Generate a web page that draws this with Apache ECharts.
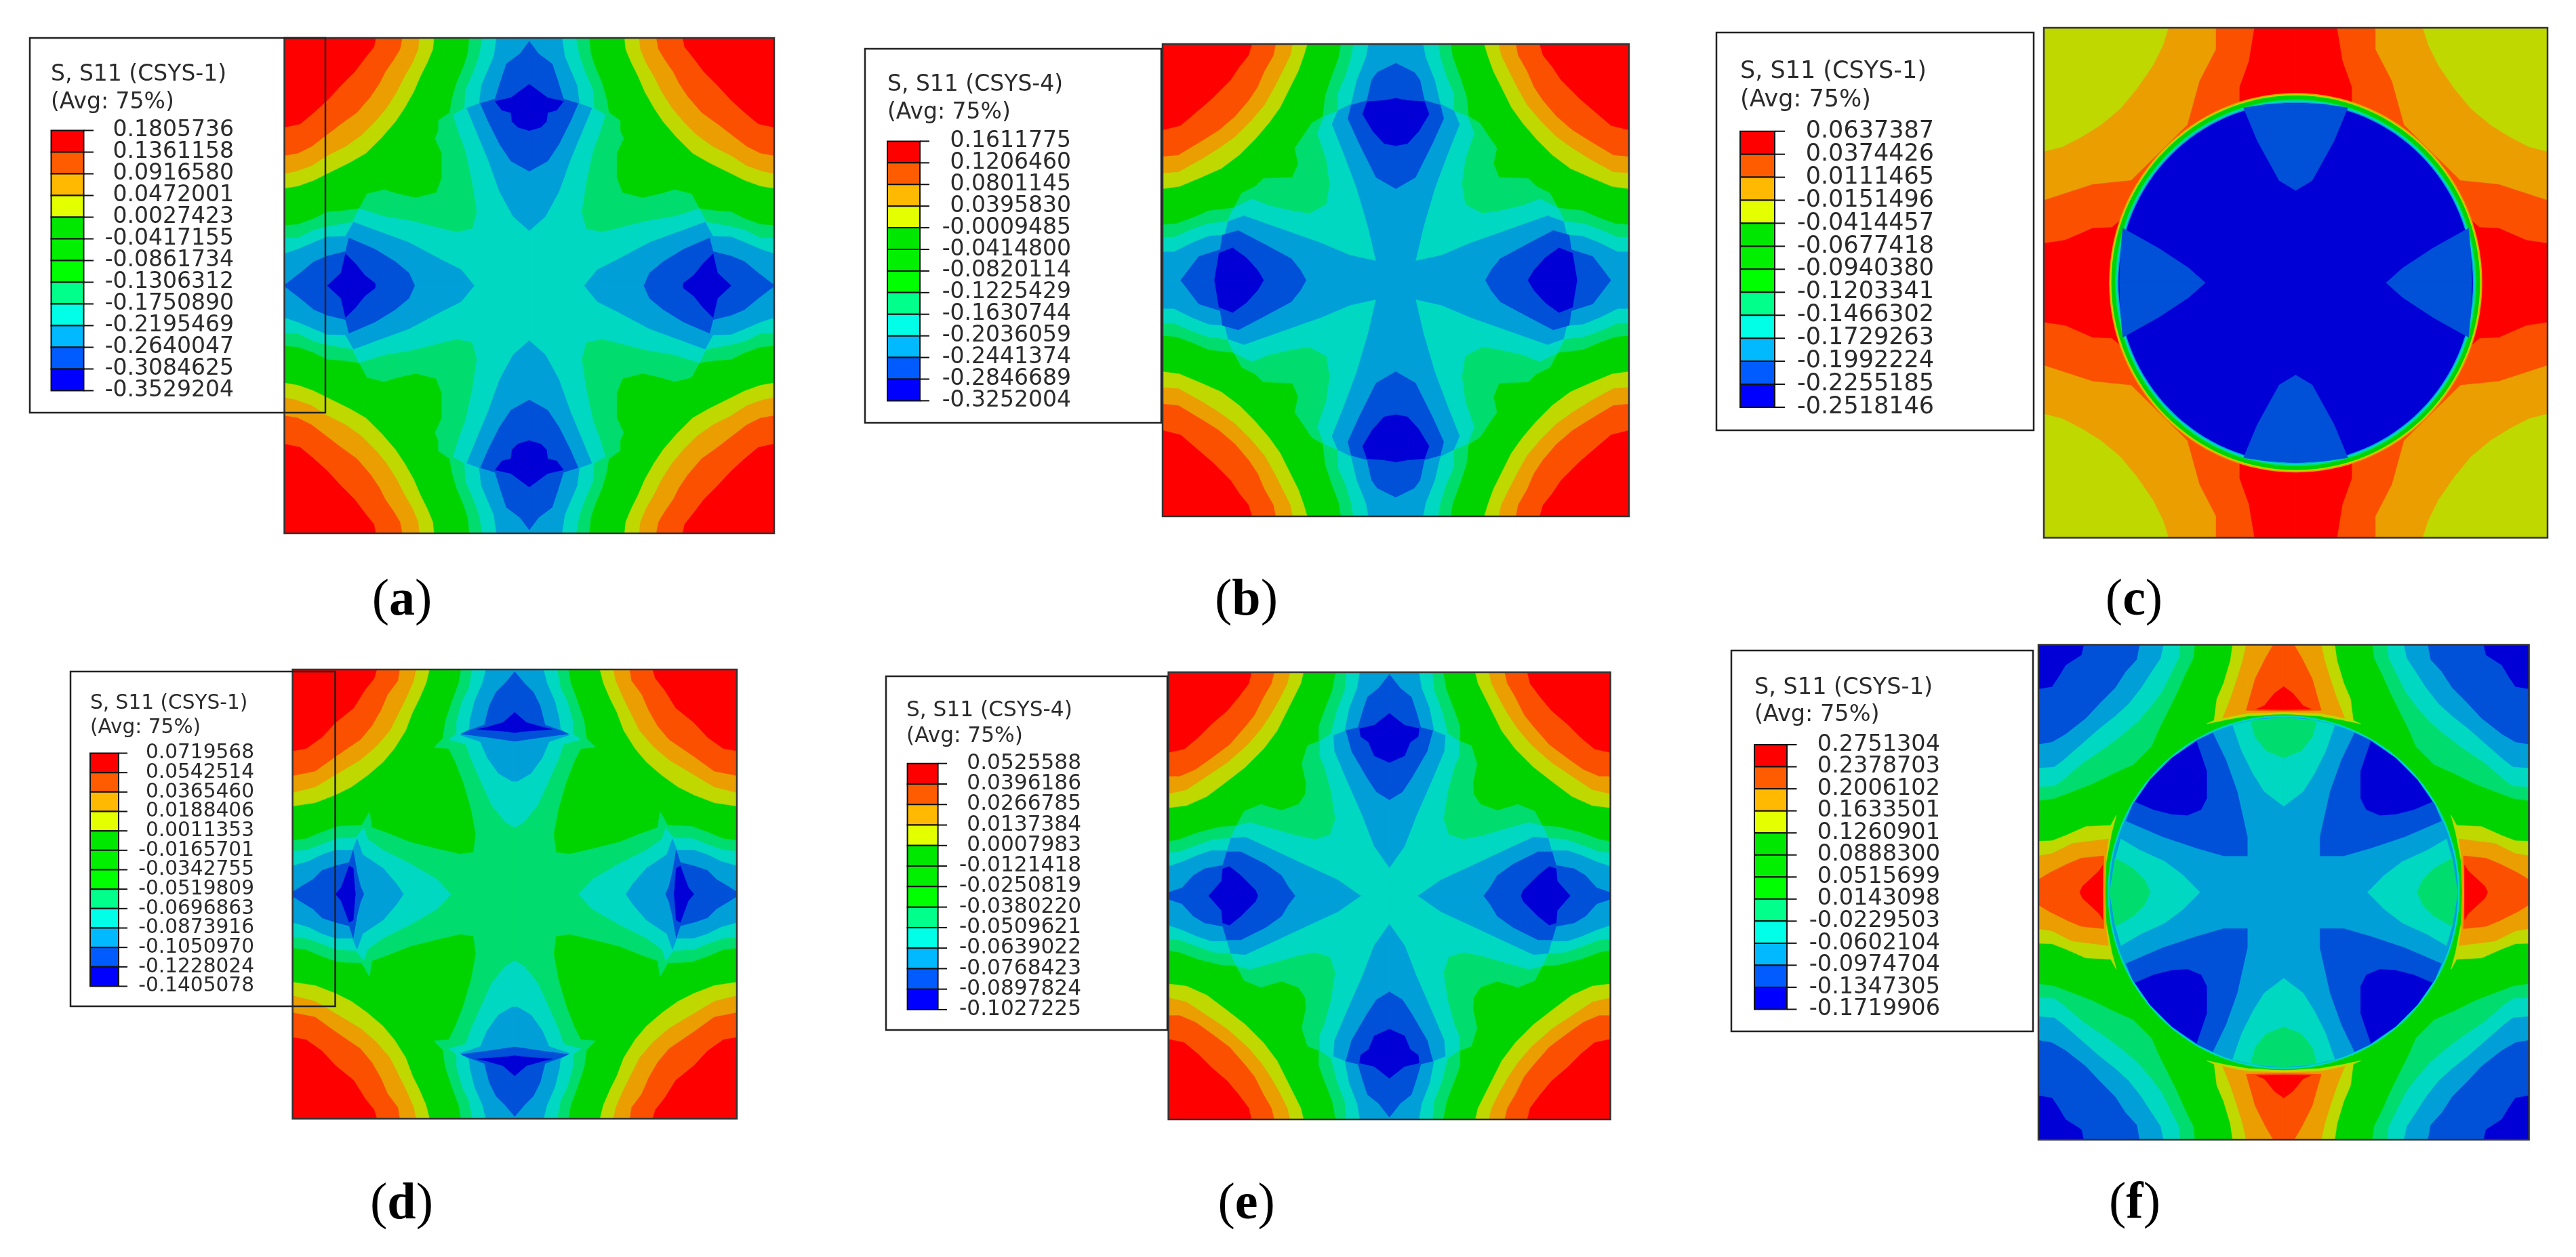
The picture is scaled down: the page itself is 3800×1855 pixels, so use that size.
<!DOCTYPE html>
<html><head><meta charset="utf-8">
<style>html,body{margin:0;padding:0;background:#fff}#c{width:3800px;height:1855px}</style>
<script src="https://cdn.jsdelivr.net/npm/echarts@6/dist/echarts.min.js"></script>
</head><body><div id="c"></div>
<script>
// contour level colours, rendered field and legend bar
const fieldColors=['#fe0000','#fa5000','#ea9e00','#bfd800','#00d400','#00d400','#00d400','#00dd6e','#00d8c2','#009fd8','#0050d8','#0000d6'];
const barColors=['#ff0000','#ff5c00','#ffb900','#e3ff00','#00e800','#00f000','#00ff00','#00ff8b','#00ffe6','#00b9ff','#005cff','#0000ff'];
const R=0,O=1,A=2,Y=3,G=4,S=7,T=8,B=9,D=10,N=11;

// legend tick labels
const ticksA=['0.1805736','0.1361158','0.0916580','0.0472001','0.0027423','-0.0417155','-0.0861734','-0.1306312','-0.1750890','-0.2195469','-0.2640047','-0.3084625','-0.3529204'];
const ticksB=['0.1611775','0.1206460','0.0801145','0.0395830','-0.0009485','-0.0414800','-0.0820114','-0.1225429','-0.1630744','-0.2036059','-0.2441374','-0.2846689','-0.3252004'];
const ticksC=['0.0637387','0.0374426','0.0111465','-0.0151496','-0.0414457','-0.0677418','-0.0940380','-0.1203341','-0.1466302','-0.1729263','-0.1992224','-0.2255185','-0.2518146'];
const ticksD=['0.0719568','0.0542514','0.0365460','0.0188406','0.0011353','-0.0165701','-0.0342755','-0.0519809','-0.0696863','-0.0873916','-0.1050970','-0.1228024','-0.1405078'];
const ticksE=['0.0525588','0.0396186','0.0266785','0.0137384','0.0007983','-0.0121418','-0.0250819','-0.0380220','-0.0509621','-0.0639022','-0.0768423','-0.0897824','-0.1027225'];
const ticksF=['0.2751304','0.2378703','0.2006102','0.1633501','0.1260901','0.0888300','0.0515699','0.0143098','-0.0229503','-0.0602104','-0.0974704','-0.1347305','-0.1719906'];

// contour bands: one quarter of each field (mirrored about the centre),
// [level, outline] in each panel's own measuring units
const fieldA=[
[Y,[[0,0],[660,0],[655,50],[630,110],[600,170],[570,240],[530,310],[490,370],[430,440],[360,510],[290,550],[190,600],[130,630],[60,655],[0,665]]],
[A,[[0,0],[595,0],[590,50],[565,110],[530,170],[495,240],[450,310],[400,370],[340,430],[270,480],[190,520],[120,565],[50,590],[0,600]]],
[O,[[0,0],[520,0],[510,50],[480,100],[445,150],[420,200],[380,260],[320,330],[250,380],[185,430],[120,480],[60,510],[0,520]]],
[R,[[0,0],[403,0],[395,40],[355,90],[310,150],[250,210],[190,275],[130,330],[70,380],[0,395]]],
[S,[[817,0],[810,70],[790,130],[760,200],[740,270],[730,330],[680,365],[680,410],[665,445],[695,510],[695,620],[670,685],[580,708],[500,690],[440,672],[365,690],[330,755],[260,765],[190,770],[130,800],[60,825],[0,830],[0,1096],[1081,1096],[1081,0]]],
[T,[[875,0],[860,80],[835,150],[800,230],[795,310],[745,340],[770,420],[800,500],[830,640],[850,770],[830,845],[760,860],[680,840],[560,810],[440,790],[330,755],[300,815],[190,835],[130,850],[60,885],[0,885],[0,1096],[1081,1096],[1081,0]]],
[B,[[937,0],[925,80],[900,140],[870,210],[860,290],[805,310],[850,420],[900,540],[950,680],[1010,790],[1081,853],[1081,0]]],
[B,[[0,955],[60,935],[130,905],[190,880],[270,878],[305,815],[400,850],[550,905],[700,985],[780,1025],[838,1096],[0,1096]]],
[D,[[1081,15],[1040,70],[980,115],[955,190],[930,270],[865,290],[900,370],[950,470],[1000,545],[1081,590]]],
[D,[[5,1090],[70,1040],[130,990],[190,965],[270,945],[285,885],[400,935],[490,990],[550,1040],[575,1096],[5,1096]]],
[N,[[1081,205],[1040,235],[1000,265],[930,280],[960,320],[1000,330],[1005,370],[1030,395],[1081,410]]],
[N,[[190,1096],[250,1040],[270,955],[315,1000],[355,1050],[400,1085],[402,1096]]]
];
const fieldB=[
[Y,[[0,0],[640,0],[625,50],[600,120],[565,190],[520,280],[470,350],[410,420],[340,490],[260,550],[170,590],[75,630],[0,640]]],
[A,[[0,0],[575,0],[565,50],[530,120],[495,190],[450,270],[390,340],[320,410],[250,460],[170,510],[70,565],[0,570]]],
[O,[[0,0],[500,0],[490,50],[450,120],[420,190],[380,250],[320,320],[250,380],[170,430],[70,490],[0,497]]],
[R,[[0,0],[395,0],[380,50],[340,100],[300,160],[220,240],[150,300],[80,360],[0,380]]],
[S,[[790,0],[780,60],[750,140],[720,230],[710,320],[660,350],[620,410],[585,460],[600,530],[575,590],[445,595],[410,630],[350,660],[315,725],[205,738],[130,770],[60,795],[0,800],[0,1045],[1032,1045],[1032,0]]],
[T,[[845,0],[835,60],[810,140],[775,220],[775,295],[715,320],[685,395],[725,510],[740,620],[725,710],[650,750],[580,740],[470,715],[395,685],[315,725],[285,785],[200,795],[130,820],[50,855],[0,855],[0,1045],[1032,1045],[1032,0]]],
[B,[[912,0],[900,60],[860,160],[835,265],[775,295],[750,355],[800,480],[860,640],[910,810],[945,960],[830,935],[700,880],[530,820],[360,760],[290,785],[275,845],[205,850],[130,880],[50,920],[0,920],[0,1045],[1032,1045],[1032,0]]],
[D,[[1032,85],[950,125],[925,160],[905,250],[835,270],[820,330],[870,440],[945,590],[1032,640]]],
[D,[[80,1045],[160,940],[255,910],[265,845],[335,825],[440,880],[570,950],[610,1000],[635,1045]]],
[N,[[1032,240],[980,250],[905,255],[885,310],[930,385],[980,440],[1032,450]]],
[N,[[230,1045],[250,925],[310,902],[370,945],[420,1000],[447,1045]]]
];
const fieldC=[
[Y,[[611,36],[838,36],[828,80],[810,130],[780,190],[750,240],[715,280],[680,310],[645,335],[611,347]]],
[O,[[925,36],[925,90],[895,170],[873,280],[770,420],[700,430],[611,470],[611,677],[1070,677],[1070,36]]],
[R,[[995,36],[985,120],[968,185],[968,260],[735,538],[700,540],[650,570],[611,578],[611,677],[1070,677],[1070,36]]]
];
const ringsC=[[A,340,477],[Y,338,474],[G,336,471],[S,329,461],[T,327,458],[B,325,455],[N,323,452]];
const innerC=[
[D,[[975,237],[1020,228],[1070,226],[1070,445],[1040,420],[1000,320]]],
[D,[[755,540],[820,590],[875,640],[905,677],[749,677],[751,600]]]
];
const fieldD=[
[Y,[[0,0],[605,0],[590,60],[560,130],[530,190],[500,270],[450,350],[400,410],[330,470],[260,520],[190,555],[100,590],[0,605]]],
[A,[[0,0],[545,0],[535,50],[500,130],[470,190],[430,270],[370,340],[300,400],[200,460],[100,520],[0,545]]],
[O,[[0,0],[473,0],[465,50],[420,110],[390,180],[350,250],[300,310],[190,385],[100,450],[0,470]]],
[R,[[0,0],[372,0],[360,40],[320,90],[270,170],[190,235],[130,300],[60,350],[0,360]]],
[S,[[745,0],[735,60],[705,140],[675,230],[665,305],[625,345],[690,350],[720,410],[755,500],[790,620],[810,730],[800,810],[740,818],[640,795],[520,765],[420,725],[350,700],[340,630],[305,690],[200,695],[130,720],[60,750],[0,757],[0,995],[982,995],[982,0]]],
[T,[[795,0],[780,80],[750,140],[725,230],[725,285],[690,310],[765,330],[790,400],[830,490],[880,600],[940,675],[982,700],[982,0]]],
[T,[[0,805],[60,800],[130,775],[190,750],[280,745],[315,700],[330,750],[400,800],[520,860],[640,930],[700,995],[0,995]]],
[B,[[855,0],[840,60],[805,140],[785,220],[780,265],[740,290],[830,320],[860,390],[910,460],[970,495],[982,495],[982,0]]],
[B,[[0,870],[70,850],[130,820],[190,800],[265,800],[285,750],[310,820],[400,880],[460,950],[490,995],[0,995]]],
[D,[[982,10],[940,60],[900,100],[870,160],[848,245],[785,268],[745,285],[860,300],[982,318]]],
[D,[[0,985],[40,960],[90,930],[130,890],[190,870],[250,855],[268,800],[285,900],[300,960],[315,995],[0,995]]],
[N,[[982,190],[930,235],[860,255],[815,265],[950,275],[982,280]]],
[N,[[190,995],[215,965],[250,870],[268,880],[275,970],[278,995]]]
];
const fieldE=[
[Y,[[0,0],[597,0],[585,50],[555,110],[520,180],[480,260],[420,340],[340,420],[250,490],[170,550],[80,590],[0,600]]],
[A,[[0,0],[537,0],[525,50],[490,120],[450,190],[410,250],[350,320],[260,400],[170,460],[80,520],[0,538]]],
[O,[[0,0],[467,0],[455,50],[420,110],[380,190],[340,240],[270,320],[190,380],[120,430],[50,460],[0,460]]],
[R,[[0,0],[367,0],[355,50],[310,110],[260,170],[190,230],[130,290],[70,340],[0,355]]],
[S,[[740,0],[725,80],[690,170],[665,240],[665,305],[615,325],[590,405],[608,490],[605,540],[575,585],[500,612],[440,595],[410,585],[335,615],[300,680],[230,685],[130,710],[50,740],[0,750],[0,990],[977,990],[977,0]]],
[T,[[787,0],[780,80],[745,170],[720,270],[670,305],[668,370],[690,420],[720,530],[738,650],[715,720],[650,740],[570,725],[450,690],[360,665],[300,680],[275,735],[200,740],[130,765],[50,795],[0,800],[0,990],[977,990],[977,0]]],
[B,[[847,0],[835,70],[800,160],[780,260],[730,280],[735,350],[790,480],[860,640],[910,770],[977,865],[977,0]]],
[B,[[0,860],[60,840],[130,810],[190,790],[260,790],[275,735],[340,730],[470,790],[620,860],[750,920],[850,990],[0,990]]],
[D,[[977,10],[930,70],[880,110],[860,170],[838,245],[785,258],[810,350],[880,470],[920,530],[977,565]]],
[D,[[0,975],[60,955],[110,900],[160,870],[240,855],[258,795],[320,795],[430,850],[500,900],[530,950],[560,990],[0,990]]],
[N,[[977,182],[910,235],[845,250],[850,285],[885,310],[910,370],[977,400]]],
[N,[[178,990],[235,925],[240,870],[270,860],[320,900],[385,965],[395,990]]]
];
const fieldF=[
[S,[[0,0],[692,0],[685,60],[650,130],[610,220],[570,300],[530,380],[500,450],[420,530],[330,570],[240,615],[150,650],[70,680],[0,690]]],
[T,[[0,0],[628,0],[620,60],[585,130],[545,210],[500,270],[440,340],[370,400],[290,460],[200,520],[100,605],[70,625],[0,628]]],
[B,[[0,0],[553,0],[540,60],[500,120],[455,190],[400,260],[340,315],[270,370],[190,440],[110,510],[70,540],[0,545]]],
[D,[[0,0],[447,0],[435,65],[385,120],[340,190],[270,260],[210,325],[120,395],[60,430],[0,440]]],
[N,[[0,0],[200,0],[190,45],[120,90],[90,140],[60,185],[0,195]]],
[Y,[[860,0],[850,70],[820,170],[790,240],[778,335],[745,350],[830,332],[930,315],[1086,310],[1086,0]]],
[A,[[920,0],[905,70],[880,150],[850,240],[820,315],[815,325],[885,310],[930,303],[1086,298],[1086,0]]],
[O,[[1040,0],[1005,60],[960,150],[920,290],[1086,293],[1086,0]]],
[R,[[1086,185],[1045,215],[1000,270],[965,285],[1086,287]]],
[Y,[[0,870],[60,868],[120,845],[210,805],[320,800],[345,755],[325,830],[300,960],[295,1096],[0,1096]]],
[A,[[0,935],[60,925],[150,880],[230,870],[310,860],[300,930],[295,1096],[0,1096]]],
[O,[[0,1040],[50,1010],[130,970],[190,945],[290,935],[285,1096],[0,1096]]],
[R,[[183,1096],[195,1070],[270,1000],[285,975],[285,1096]]]
];
const ringsF=[[G,785,788],[T,779,783],[B,772,776]];
const innerF=[
[D,[[772,390],[830,510],[880,650],[925,850],[925,935],[820,935],[700,900],[550,850],[388,780],[417,708],[495,597],[590,502],[700,424]]],
[N,[[700,428],[745,560],[745,680],[720,730],[660,755],[590,750],[510,730],[428,695],[495,597],[590,502]]],
[T,[[860,356],[900,470],[950,570],[1000,650],[1086,715],[1086,322],[950,334]]],
[S,[[940,338],[960,410],[1010,470],[1086,500],[1086,322]]],
[T,[[365,860],[450,910],[560,960],[640,1020],[715,1096],[316,1096],[340,950]]],
[S,[[340,945],[420,990],[470,1040],[495,1096],[316,1096]]]
];

// page layout of each panel
const panels=[
{tag:'a',csys:'S, S11 (CSYS-1)',ticks:ticksA,base:G,field:fieldA,rings:[],inner:[],dom:[0,0,1081,1096],
 rect:[419.5,56,722.5,731],box:[44,56,436,553],bar:[75.5,192.5,48,384],tickEnd:138,right:345,title:[75,110,151],font:33,lab:[593,887]},
{tag:'b',csys:'S, S11 (CSYS-4)',ticks:ticksB,base:G,field:fieldB,rings:[],inner:[],dom:[0,0,1032,1045],
 rect:[1715,65,688,697],box:[1276,72,437,552],bar:[1309,208.4,48,383],tickEnd:1371,right:1580,title:[1309,125.7,166],font:33,lab:[1838.5,887]},
{tag:'c',csys:'S, S11 (CSYS-1)',ticks:ticksC,base:A,field:fieldC,rings:ringsC,inner:innerC,dom:[611,36,1070,677],
 rect:[3015,41,743,752.5],box:[2532,48,468,587],bar:[2567,193.7,51,407.3],tickEnd:2633,right:2853,title:[2567,106,148],font:35,lab:[3148,887]},
{tag:'d',csys:'S, S11 (CSYS-1)',ticks:ticksD,base:G,field:fieldD,rings:[],inner:[],dom:[0,0,982,995],
 rect:[431.6,988,655.4,663],box:[104,991,390.5,494],bar:[133,1111.5,42,344],tickEnd:188,right:375,title:[133,1038.6,1074.5],font:29.6,lab:[592.5,1778]},
{tag:'e',csys:'S, S11 (CSYS-4)',ticks:ticksE,base:G,field:fieldE,rings:[],inner:[],dom:[0,0,977,990],
 rect:[1723.6,992,652,660],box:[1307,998,415,522],bar:[1338.6,1126.7,45,363.3],tickEnd:1397,right:1595,title:[1337,1048.7,1086.8],font:31.2,lab:[1838.6,1778]},
{tag:'f',csys:'S, S11 (CSYS-1)',ticks:ticksF,base:G,field:fieldF,rings:ringsF,inner:innerF,dom:[0,0,1086,1096],
 rect:[3007,951.5,723.6,730.5],box:[2554,960,445,562],bar:[2588,1099,48,390.5],tickEnd:2650.5,right:2862,title:[2588,1015,1055],font:33.5,lab:[3149,1777]}
];
const ink='#2b2b2b', FONT='"DejaVu Sans"';

const grid=[],xAxis=[],yAxis=[],series=[],graphic=[];
panels.forEach((p,i)=>{
  const [x0,y0,cx,cy]=p.dom, x1=2*cx-x0, y1=2*cy-y0;
  // field grid
  grid.push({left:p.rect[0],top:p.rect[1],width:p.rect[2],height:p.rect[3]});
  xAxis.push({gridIndex:2*i,type:'value',min:x0,max:x1,show:false});
  yAxis.push({gridIndex:2*i,type:'value',min:y0,max:y1,inverse:true,show:false});
  // legend bar grid
  grid.push({left:p.bar[0],top:p.bar[1],width:p.bar[2],height:p.bar[3]});
  xAxis.push({gridIndex:2*i+1,type:'value',min:0,max:1,show:false});
  yAxis.push({gridIndex:2*i+1,type:'value',min:0,max:12,interval:1,inverse:true,show:false});

  // marks painted back to front
  const items=[{kind:'poly',level:p.base,pts:[[x0,y0],[cx,y0],[cx,cy],[x0,cy]]}];
  const add=b=>items.push({kind:'poly',level:b[0],pts:b[1]});
  p.field.forEach(add);
  p.rings.forEach(r=>items.push({kind:'ring',level:r[0],rx:r[1],ry:r[2]}));
  p.inner.forEach(add);
  series.push({type:'custom',xAxisIndex:2*i,yAxisIndex:2*i,silent:true,animation:false,clip:true,
    data:items.map((_,k)=>[k]),
    renderItem:(params,api)=>{
      const k=params.dataIndex, it=items[k], fill=fieldColors[it.level];
      if(it.kind==='ring'){
        const c=api.coord([cx,cy]), s=api.size([it.rx,it.ry]);
        return {type:'ellipse',z2:k*10,shape:{cx:c[0],cy:c[1],rx:s[0],ry:s[1]},style:{fill}};
      }
      const kids=[[0,0],[1,0],[0,1],[1,1]].map(m=>({
        type:'polygon',z2:k*10,
        shape:{points:it.pts.map(q=>api.coord([m[0]?2*cx-q[0]:q[0],m[1]?2*cy-q[1]:q[1]]))},
        style:{fill,stroke:fill,lineWidth:0.6}}));
      return {type:'group',children:kids};
    }});
  // legend bar cells
  series.push({type:'custom',xAxisIndex:2*i+1,yAxisIndex:2*i+1,silent:true,animation:false,
    data:barColors.map((_,k)=>[k]),
    renderItem:(params,api)=>{
      const k=params.dataIndex,a=api.coord([0,k]),b=api.coord([1,k+1]);
      return {type:'rect',shape:{x:a[0],y:a[1],width:b[0]-a[0],height:b[1]-a[1]},
        style:{fill:barColors[k],stroke:'#111',lineWidth:2}};
    }});
  // legend bar ticks with their labels
  series.push({type:'custom',xAxisIndex:2*i+1,yAxisIndex:2*i+1,silent:true,animation:false,
    data:p.ticks.map((_,k)=>[k]),
    renderItem:(params,api)=>{
      const k=params.dataIndex,a=api.coord([1,k]);
      return {type:'group',children:[
        {type:'line',shape:{x1:a[0],y1:a[1],x2:p.tickEnd,y2:a[1]},style:{stroke:'#111',lineWidth:2}},
        {type:'text',x:p.right,y:a[1],style:{text:p.ticks[k],font:p.font+'px '+FONT,fill:ink,textAlign:'right',textVerticalAlign:'middle'}}
      ]};
    }});

  // legend box: white under the field, outline above it
  const [bx,by,bw,bh]=p.box;
  graphic.push({type:'rect',z:-5,silent:true,shape:{x:bx,y:by,width:bw,height:bh},style:{fill:'#fff',stroke:null}});
  graphic.push({type:'rect',z:50,silent:true,shape:{x:bx,y:by,width:bw,height:bh},style:{fill:null,stroke:'#222',lineWidth:2.5}});
  graphic.push({type:'rect',z:49,silent:true,shape:{x:p.rect[0],y:p.rect[1],width:p.rect[2],height:p.rect[3]},style:{fill:null,stroke:'#333',lineWidth:2.5}});
  graphic.push({type:'text',z:60,silent:true,x:p.title[0],y:p.title[1],style:{text:p.csys,font:p.font+'px '+FONT,fill:ink,textAlign:'left',textVerticalAlign:'middle'}});
  graphic.push({type:'text',z:60,silent:true,x:p.title[0],y:p.title[2],style:{text:'(Avg: 75%)',font:p.font+'px '+FONT,fill:ink,textAlign:'left',textVerticalAlign:'middle'}});
  graphic.push({type:'text',z:60,silent:true,x:p.lab[0],y:p.lab[1],style:{
    text:'{n|(}{b|'+p.tag+'}{n|)}',align:'center',verticalAlign:'middle',textAlign:'center',textVerticalAlign:'middle',
    rich:{n:{fontFamily:'"Liberation Serif"',fontSize:76,fill:'#000',color:'#000'},b:{fontFamily:'"Liberation Serif"',fontWeight:'bold',fontSize:76,fill:'#000',color:'#000'}}}});
});

const chart=echarts.init(document.getElementById('c'),null,{renderer:'canvas'});
chart.setOption({animation:false,backgroundColor:'#fff',grid,xAxis,yAxis,series,graphic});
</script></body></html>
